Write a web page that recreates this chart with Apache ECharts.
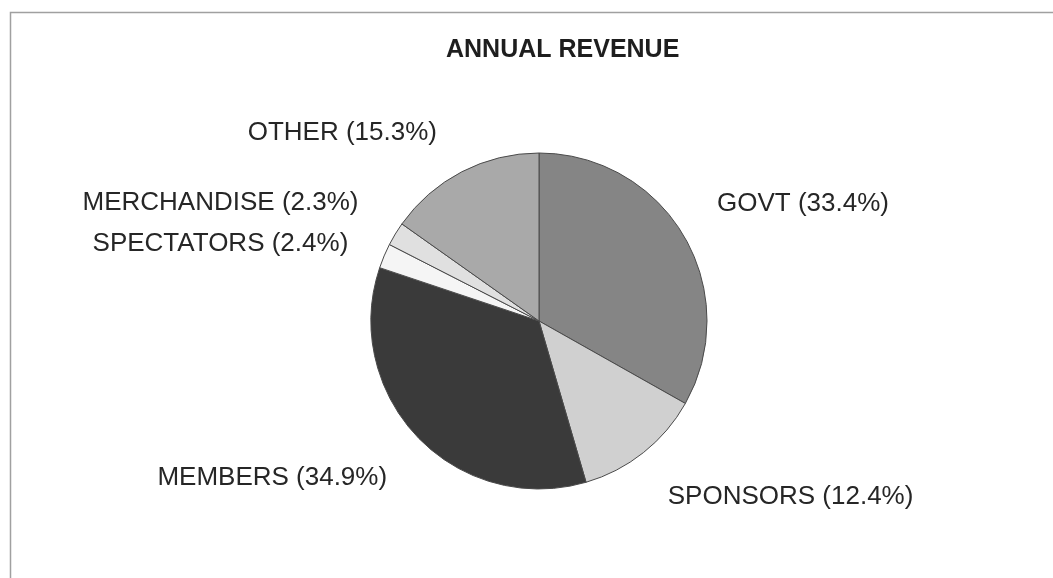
<!DOCTYPE html>
<html>
<head>
<meta charset="utf-8">
<title>Annual Revenue</title>
<script src="https://cdn.jsdelivr.net/npm/echarts@6/dist/echarts.min.js"></script>
<style>
  html, body { margin: 0; padding: 0; background: #ffffff; }
  #chart { width: 1053px; height: 578px; }
</style>
</head>
<body>
<div id="chart"></div>
<script>
// Revenue sources, in clockwise order from 12 o'clock
const categories = ['GOVT', 'SPONSORS', 'MEMBERS', 'SPECTATORS', 'MERCHANDISE', 'OTHER'];
const shares = [33.4, 12.4, 34.9, 2.4, 2.3, 15.3];

// Grey shades for each slice
const sliceColors = ['#858585', '#d0d0d0', '#3a3a3a', '#f5f5f5', '#e0e0e0', '#a9a9a9'];

// Label nudges (dx, dy) away from the default outside anchor
const labelNudges = [[15, -25], [10, 32], [-15, 30], [-17, -6], [-19, -23], [-13, -26]];

const chart = echarts.init(document.getElementById('chart'), null, { renderer: 'canvas' });

const pieData = categories.map((name, i) => ({
  name: name,
  value: shares[i],
  itemStyle: { color: sliceColors[i] }
}));

chart.setOption({
  backgroundColor: '#ffffff',
  animation: false,
  title: {
    text: 'ANNUAL REVENUE',
    left: 441,
    top: 33,
    textStyle: {
      fontFamily: 'Liberation Sans, Arial, sans-serif',
      fontWeight: 'bold',
      fontSize: 25,
      color: '#1e1e1e'
    }
  },
  graphic: [{
    type: 'rect',
    silent: true,
    shape: { x: 10.5, y: 12.5, width: 1100, height: 620 },
    style: { fill: 'none', stroke: '#a0a0a0', lineWidth: 1.5 }
  }],
  series: [{
    type: 'pie',
    center: [539, 321],
    radius: 168,
    startAngle: 90,
    clockwise: true,
    avoidLabelOverlap: false,
    itemStyle: { borderColor: '#4a4a4a', borderWidth: 1 },
    label: {
      show: true,
      position: 'outside',
      formatter: p => p.name + ' (' + p.value.toFixed(1) + '%)',
      fontFamily: 'Liberation Sans, Arial, sans-serif',
      fontSize: 26,
      color: '#262626'
    },
    labelLine: { show: false, length: 15, length2: 0 },
    labelLayout: params => ({ dx: labelNudges[params.dataIndex][0], dy: labelNudges[params.dataIndex][1] }),
    emphasis: { disabled: true },
    data: pieData
  }]
});
</script>
</body>
</html>
